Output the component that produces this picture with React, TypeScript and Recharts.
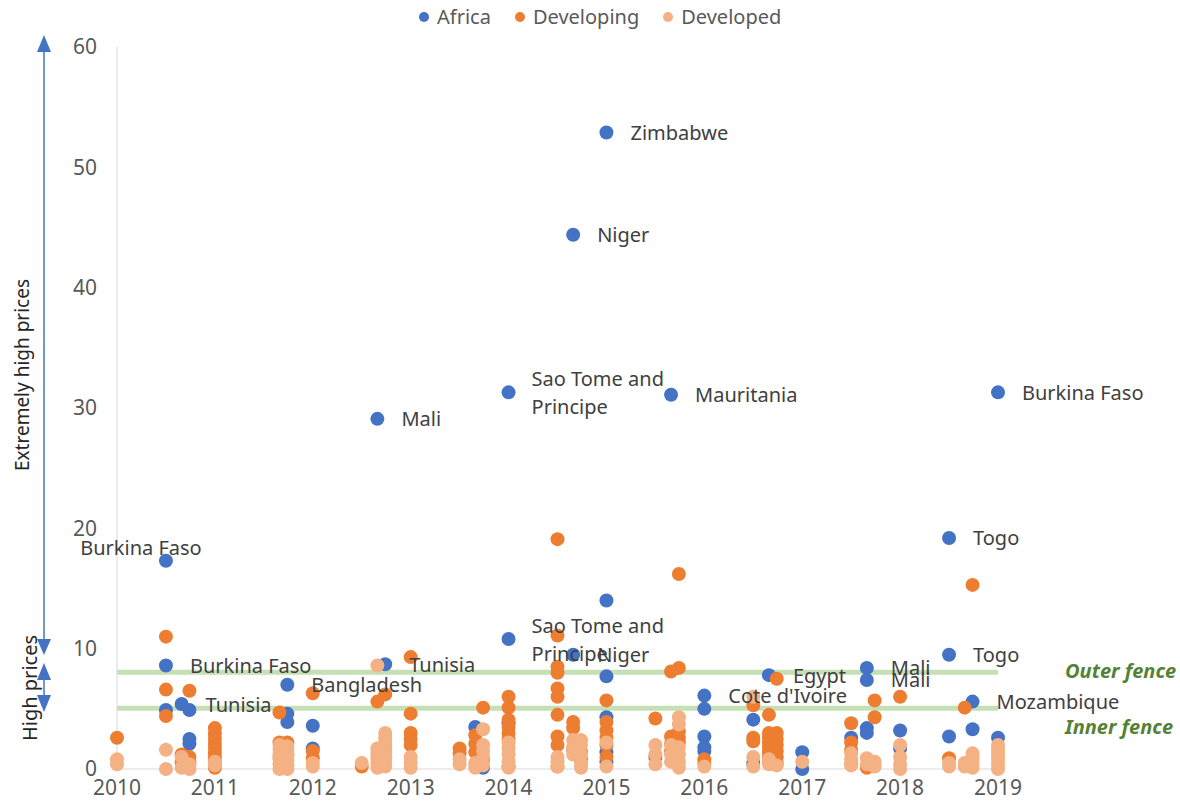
import { Legend, ReferenceLine, Scatter, ScatterChart, XAxis, YAxis } from 'recharts'

const years = [2010, 2011, 2012, 2013, 2014, 2015, 2016, 2017, 2018, 2019]
const yTicks = [0, 10, 20, 30, 40, 50, 60]

// survey date (fractional year) -> prices seen at that date
const africaByDate: [number, number[]][] = [
  [2010.5, [4.9]],
  [2010.74, [4.9, 2.5, 2.1]],
  [2011.74, [4.6, 3.9]],
  [2012, [3.6, 1.7]],
  [2013.66, [3.5]],
  [2013.74, [0.1]],
  [2014, [3.8, 0.2]],
  [2015, [14.0, 7.7, 4.3, 1.4, 0.6]],
  [2015.5, [1.0]],
  [2016, [5.0, 2.7, 1.8, 1.5]],
  [2016.5, [4.1, 0.5]],
  [2017, [1.4, 0.0]],
  [2017.5, [2.6]],
  [2017.66, [3.4, 3.0]],
  [2018, [3.2, 1.7]],
  [2018.5, [2.7]],
  [2018.74, [3.3]],
  [2019, [2.6]],
]

// labelled outliers, all in the Africa series
const africaLabels: [number, number, string][] = [
  [2010.5, 17.3, 'Burkina Faso'],
  [2010.5, 8.6, 'Burkina Faso'],
  [2010.66, 5.4, 'Tunisia'],
  [2011.74, 7.0, 'Bangladesh'],
  [2012.66, 29.1, 'Mali'],
  [2012.74, 8.7, 'Tunisia'],
  [2014, 31.3, 'Sao Tome and Principe'],
  [2014, 10.8, 'Sao Tome and Principe'],
  [2014.66, 44.4, 'Niger'],
  [2014.66, 9.5, 'Niger'],
  [2015, 52.9, 'Zimbabwe'],
  [2015.66, 31.1, 'Mauritania'],
  [2016, 6.1, "Cote d'Ivoire"],
  [2016.66, 7.8, 'Egypt'],
  [2017.66, 8.4, 'Mali'],
  [2017.66, 7.4, 'Mali'],
  [2018.5, 19.2, 'Togo'],
  [2018.5, 9.5, 'Togo'],
  [2018.74, 5.6, 'Mozambique'],
  [2019, 31.3, 'Burkina Faso'],
]

const developingByDate: [number, number[]][] = [
  [2010, [2.6]],
  [2010.5, [11.0, 6.6, 4.4]],
  [2010.66, [1.2, 0.6]],
  [2010.74, [6.5, 1.0, 0.6]],
  [2011, [3.4, 2.9, 2.5, 2.1, 1.7, 1.3, 0.9, 0.5, 0.1]],
  [2011.66, [4.7, 2.2, 1.0]],
  [2011.74, [2.2, 1.2]],
  [2012, [6.3, 1.5, 0.9]],
  [2012.5, [0.2]],
  [2012.66, [5.6]],
  [2012.74, [6.2, 1.0]],
  [2013, [9.3, 4.6, 3.0, 2.5, 2.0]],
  [2013.5, [1.7, 1.3]],
  [2013.66, [2.8, 2.1, 1.4]],
  [2013.74, [5.1, 0.8]],
  [2014, [6.0, 5.1, 4.1, 3.5, 3.0, 2.5]],
  [2014.5, [19.1, 11.1, 8.5, 8.0, 6.7, 6.0, 4.5, 2.7, 2.0, 0.2]],
  [2014.66, [3.9, 3.4, 1.6]],
  [2014.74, [1.4, 0.8]],
  [2015, [5.7, 3.9, 3.2, 2.6, 2.0, 1.0]],
  [2015.5, [4.2]],
  [2015.66, [8.1, 2.7, 2.1, 1.5]],
  [2015.74, [16.2, 8.4, 3.1, 2.6, 2.2]],
  [2016, [0.8, 0.5]],
  [2016.5, [5.3, 2.6, 2.3]],
  [2016.66, [4.5, 3.0, 2.6, 2.2, 1.8, 1.4, 1.0, 0.6]],
  [2016.74, [7.5, 3.0, 2.5, 2.0, 1.5, 1.0, 0.5]],
  [2017.5, [3.8, 2.2, 1.6, 0.4]],
  [2017.66, [0.1]],
  [2017.74, [5.7, 4.3]],
  [2018, [6.0]],
  [2018.5, [0.9]],
  [2018.66, [5.1]],
  [2018.74, [15.3]],
]

const developedByDate: [number, number[]][] = [
  [2010, [0.8, 0.4]],
  [2010.5, [1.6, 0.0]],
  [2010.66, [1.0, 0.1]],
  [2010.74, [0.4, 0.0]],
  [2011, [0.6, 0.3]],
  [2011.66, [2.0, 1.6, 1.2, 0.8, 0.4, 0.0]],
  [2011.74, [1.9, 1.5, 1.1, 0.7, 0.3, 0.0]],
  [2012, [0.5, 0.2]],
  [2012.5, [0.5]],
  [2012.66, [8.6, 1.7, 1.3, 0.9, 0.5, 0.1]],
  [2012.74, [3.0, 2.6, 2.2, 1.8, 1.4, 1.0, 0.6, 0.2]],
  [2013, [1.0, 0.5, 0.1]],
  [2013.5, [0.8, 0.4]],
  [2013.66, [0.5, 0.1]],
  [2013.74, [3.3, 2.0, 1.5, 1.0, 0.3]],
  [2014, [2.2, 1.7, 1.2, 0.6, 0.1]],
  [2014.5, [1.0, 0.6, 0.2]],
  [2014.66, [2.4, 1.8, 1.2]],
  [2014.74, [2.4, 2.0, 1.2, 0.5, 0.1]],
  [2015, [2.2, 0.2]],
  [2015.5, [2.0, 1.2, 0.4]],
  [2015.66, [2.0, 1.2, 0.6]],
  [2015.74, [4.3, 3.7, 1.8, 1.2, 0.6, 0.1]],
  [2016, [0.2]],
  [2016.5, [6.0, 1.0, 0.2]],
  [2016.66, [0.8, 0.4]],
  [2016.74, [0.3]],
  [2017, [0.6]],
  [2017.5, [1.3, 0.8, 0.3]],
  [2017.66, [0.9, 0.4]],
  [2017.74, [0.6, 0.2]],
  [2018, [2.0, 1.0, 0.4, 0.0]],
  [2018.5, [0.5, 0.2]],
  [2018.66, [0.5, 0.2]],
  [2018.74, [1.3, 0.9, 0.5, 0.1]],
  [2019, [2.0, 1.6, 1.2, 0.8, 0.4, 0.0]],
]

const outerFence = 8.04
const innerFence = 5.05

const AFRICA = '#4472C4'
const DEVELOPING = '#ED7D31'
const DEVELOPED = '#F4B183'
const FENCE = '#C5E0B4'
const FENCE_TEXT = '#548235'
const TEXT = '#595959'
const FONT = '"Noto Sans", "Open Sans", sans-serif'

type Point = { x: number; y: number; name?: string }

const flatten = (cols: [number, number[]][]): Point[] =>
  cols.flatMap(([x, ys]) => ys.map((y) => ({ x, y })))

const labelled: Point[] = africaLabels.map(([x, y, name]) => ({ x, y, name }))
const africa = [...labelled, ...flatten(africaByDate)]
const developing = flatten(developingByDate)
const developed = flatten(developedByDate)

const legendItems = [
  { name: 'Africa', color: AFRICA },
  { name: 'Developing', color: DEVELOPING },
  { name: 'Developed', color: DEVELOPED },
]

const dot = (color: string) => (props: any) => (
  <circle cx={props.cx} cy={props.cy} r={7} fill={color} />
)

// long names wrap to two lines like the original text boxes
function splitName(name: string) {
  if (name.length <= 14) return [name]
  const words = name.split(' ')
  const first: string[] = []
  while (words.length && [...first, words[0]].join(' ').length <= 12) first.push(words.shift() as string)
  return [first.join(' '), words.join(' ')]
}

function CountryLabel(props: any) {
  const { cx, cy, payload } = props
  const name = payload?.name
  if (!name) return null
  const style = { fontFamily: FONT, fontSize: 20, fill: '#404040' }
  // the early Burkina Faso outlier sits against the axis, its label is above it
  if (payload.x < 2011 && payload.y > 15) {
    return (
      <text x={cx - 25} y={cy - 13} textAnchor="middle" dominantBaseline="central" {...style}>
        {name}
      </text>
    )
  }
  const lines = splitName(name)
  return (
    <text x={cx + 24} y={cy} dominantBaseline="central" {...style}>
      {lines.length === 1
        ? name
        : lines.map((l, i) => (
            <tspan key={i} x={cx + 23} y={cy + (i === 0 ? -14 : 14)}>
              {l}
            </tspan>
          ))}
    </text>
  )
}

const fenceLabel = (text: string, dy: number) => (props: any) => {
  const vb = props.viewBox
  return (
    <text
      x={vb.x + vb.width + 67}
      y={vb.y + dy}
      dominantBaseline="central"
      fontFamily={FONT}
      fontSize={20}
      fontWeight="bold"
      fontStyle="italic"
      fill={FENCE_TEXT}
    >
      {text}
    </text>
  )
}

function LegendContent() {
  return (
    <div style={{ display: 'flex', gap: 24, fontFamily: FONT, fontSize: 20, color: TEXT }}>
      {legendItems.map((item) => (
        <div key={item.name} style={{ display: 'flex', alignItems: 'center', gap: 8 }}>
          <span
            style={{ width: 10, height: 10, borderRadius: 5, background: item.color, display: 'inline-block' }}
          />
          {item.name}
        </div>
      ))}
    </div>
  )
}

function SideArrows() {
  const c = AFRICA
  return (
    <svg width={80} height={812} style={{ position: 'absolute', left: 0, top: 0, pointerEvents: 'none' }}>
      <line x1={44} y1={48} x2={44} y2={642} stroke={c} strokeWidth={1.5} />
      <polygon points="44,35 37,52 51,52" fill={c} />
      <polygon points="44,655 37,639 51,639" fill={c} />
      <line x1={44} y1={676} x2={44} y2={699} stroke={c} strokeWidth={1.5} />
      <polygon points="44,663 37,680 51,680" fill={c} />
      <polygon points="44,712 37,695 51,695" fill={c} />
      <text
        transform="translate(22,375) rotate(-90)"
        textAnchor="middle"
        dominantBaseline="central"
        fontFamily={FONT}
        fontSize={19}
        fill="#262626"
      >
        Extremely high prices
      </text>
      <text
        transform="translate(29,688) rotate(-90)"
        textAnchor="middle"
        dominantBaseline="central"
        fontFamily={FONT}
        fontSize={20}
        fill="#262626"
      >
        High prices
      </text>
    </svg>
  )
}

export default function App() {
  return (
    <div style={{ position: 'absolute', left: 0, top: 0, width: 1180, height: 812, background: '#fff' }}>
      <ScatterChart width={1180} height={812} margin={{ top: 47, right: 182, bottom: 13, left: 0 }}>
        <XAxis
          type="number"
          dataKey="x"
          domain={[2010, 2019]}
          ticks={years}
          interval={0}
          height={30}
          stroke="#D9D9D9"
          tickLine={false}
          tickMargin={5}
          tick={{ fill: TEXT, fontSize: 21, fontFamily: FONT }}
        />
        <YAxis
          type="number"
          dataKey="y"
          domain={[0, 60]}
          ticks={yTicks}
          interval={0}
          width={117}
          stroke="#D9D9D9"
          tickLine={false}
          tickMargin={14}
          tick={{ fill: TEXT, fontSize: 21, fontFamily: FONT }}
        />
        <ReferenceLine
          segment={[{ x: 2010, y: outerFence }, { x: 2019, y: outerFence }]}
          stroke={FENCE}
          strokeWidth={5}
          label={fenceLabel('Outer fence', -2)}
        />
        <ReferenceLine
          segment={[{ x: 2010, y: innerFence }, { x: 2019, y: innerFence }]}
          stroke={FENCE}
          strokeWidth={5}
          label={fenceLabel('Inner fence', 18)}
        />
        <Legend
          layout="horizontal"
          verticalAlign="middle"
          align="center"
          content={<LegendContent />}
          wrapperStyle={{ top: 3, left: 419, width: 420 }}
        />
        <Scatter name="Africa" data={africa} shape={dot(AFRICA)} isAnimationActive={false} />
        <Scatter name="Developing" data={developing} shape={dot(DEVELOPING)} isAnimationActive={false} />
        <Scatter name="Developed" data={developed} shape={dot(DEVELOPED)} isAnimationActive={false} />
        <Scatter name="labels" data={labelled} shape={CountryLabel} legendType="none" isAnimationActive={false} />
      </ScatterChart>
      <SideArrows />
    </div>
  )
}
